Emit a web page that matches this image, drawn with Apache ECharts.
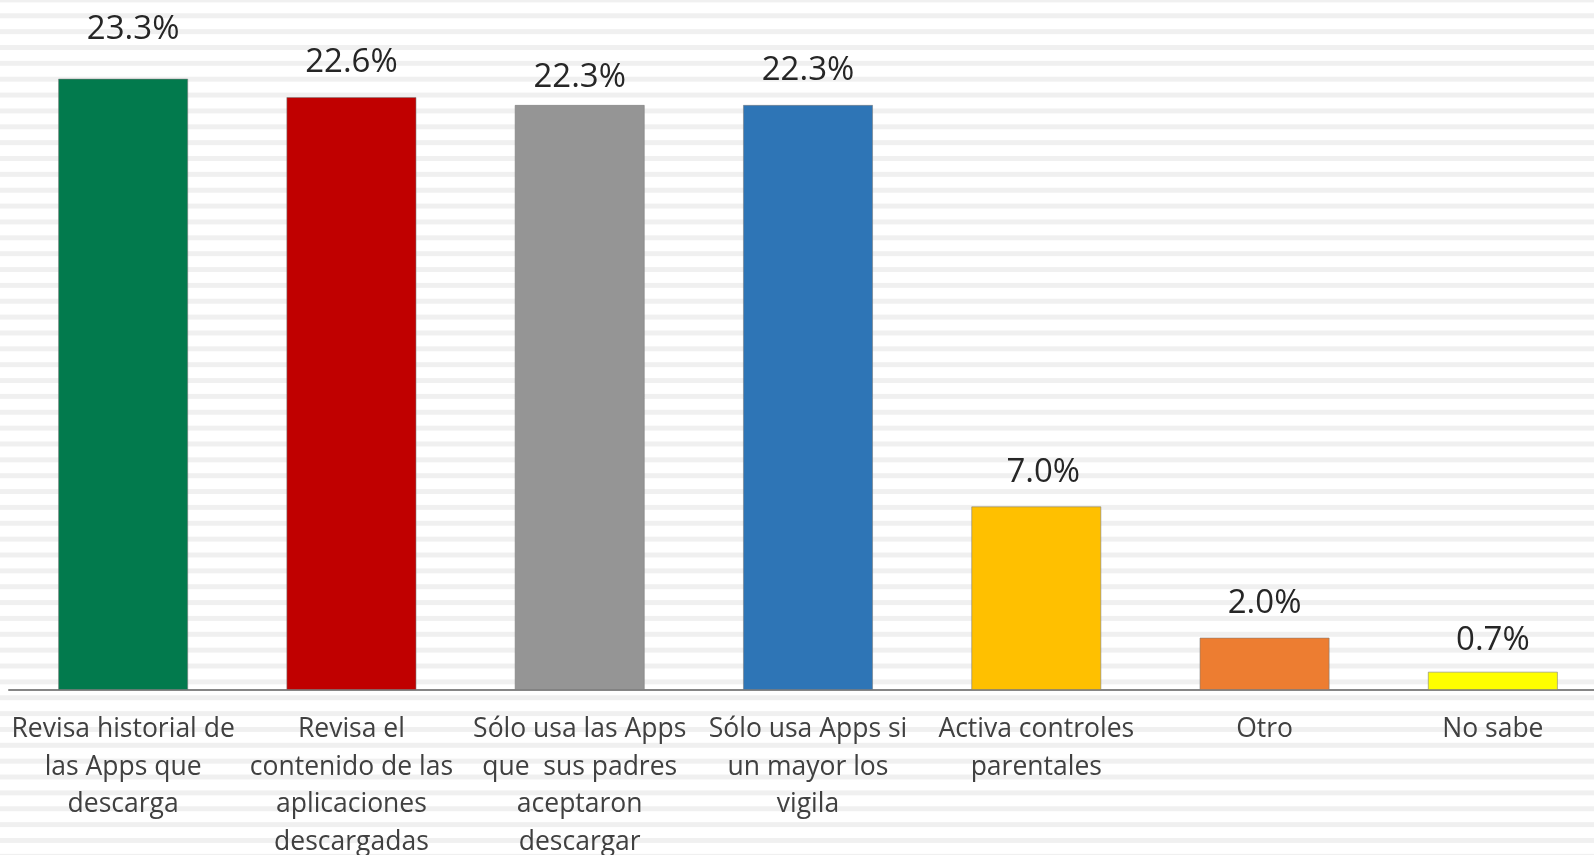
<!DOCTYPE html>
<html>
<head>
<meta charset="utf-8">
<script src="https://cdn.jsdelivr.net/npm/echarts@6/dist/echarts.min.js"></script>
<style>
  html, body { margin: 0; padding: 0; }
  body {
    width: 1594px; height: 855px; overflow: hidden;
    background-color: #fff;
    background-image: linear-gradient(to bottom, #fff 0, #fff 10.9px, #f0f0f0 10.9px, #f0f0f0 15.87px);
    background-size: 100% 15.87px;
    background-position: 0 2.4px;
  }
  #main { width: 1594px; height: 855px; }
</style>
</head>
<body>
<div id="main"></div>
<script>
// categorías del eje (saltos de línea como en el original)
const categories = [
  'Revisa historial de\nlas Apps que\ndescarga',
  'Revisa el\ncontenido de las\naplicaciones\ndescargadas',
  'Sólo usa las Apps\nque  sus padres\naceptaron\ndescargar',
  'Sólo usa Apps si\nun mayor los\nvigila',
  'Activa controles\nparentales',
  'Otro',
  'No sabe'
]
// porcentajes
const values = [23.3, 22.6, 22.3, 22.3, 7.0, 2.0, 0.7]

const barColors = ['#027A4D', '#C00000', '#959595', '#2E75B6', '#FFC000', '#ED7D31', '#FFFF00']

const chart = echarts.init(document.getElementById('main'))

// pequeños ajustes de etiqueta como en la diapositiva original
function labelOffset(i) {
  if (i == 0) return [10, -15]
  if (i == 2) return [0, 7]
  if (i == 4) return [7, 0]
  if (i == 6) return [0, 3]
  return [0, 0]
}

chart.setOption({
  animation: false,
  grid: {
    left: 9,
    top: 34,
    width: 1598,
    bottom: 165,
    outerBoundsMode: 'none',
    containLabel: false
  },
  xAxis: {
    type: 'category',
    data: categories,
    axisTick: { show: false },
    axisLine: { lineStyle: { color: '#868686', width: 2 } },
    axisLabel: {
      interval: 0,
      margin: 21,
      fontFamily: 'Open Sans',
      fontSize: 26.5,
      lineHeight: 37.5,
      color: '#404040'
    }
  },
  yAxis: {
    type: 'value',
    min: 0,
    max: 25,
    show: false,
    splitLine: { show: false }
  },
  series: [{
    type: 'bar',
    barWidth: '57%',
    data: values.map((v, i) => ({
      value: v,
      itemStyle: { color: barColors[i] },
      label: { offset: labelOffset(i) }
    })),
    itemStyle: { borderColor: 'rgba(120,120,120,0.55)', borderWidth: 1 },
    label: {
      show: true,
      position: 'top',
      distance: 16,
      fontFamily: 'Open Sans',
      fontSize: 33,
      lineHeight: 36,
      color: '#262626',
      formatter: p => p.value.toFixed(1) + '%'
    }
  }]
})
</script>
</body>
</html>
